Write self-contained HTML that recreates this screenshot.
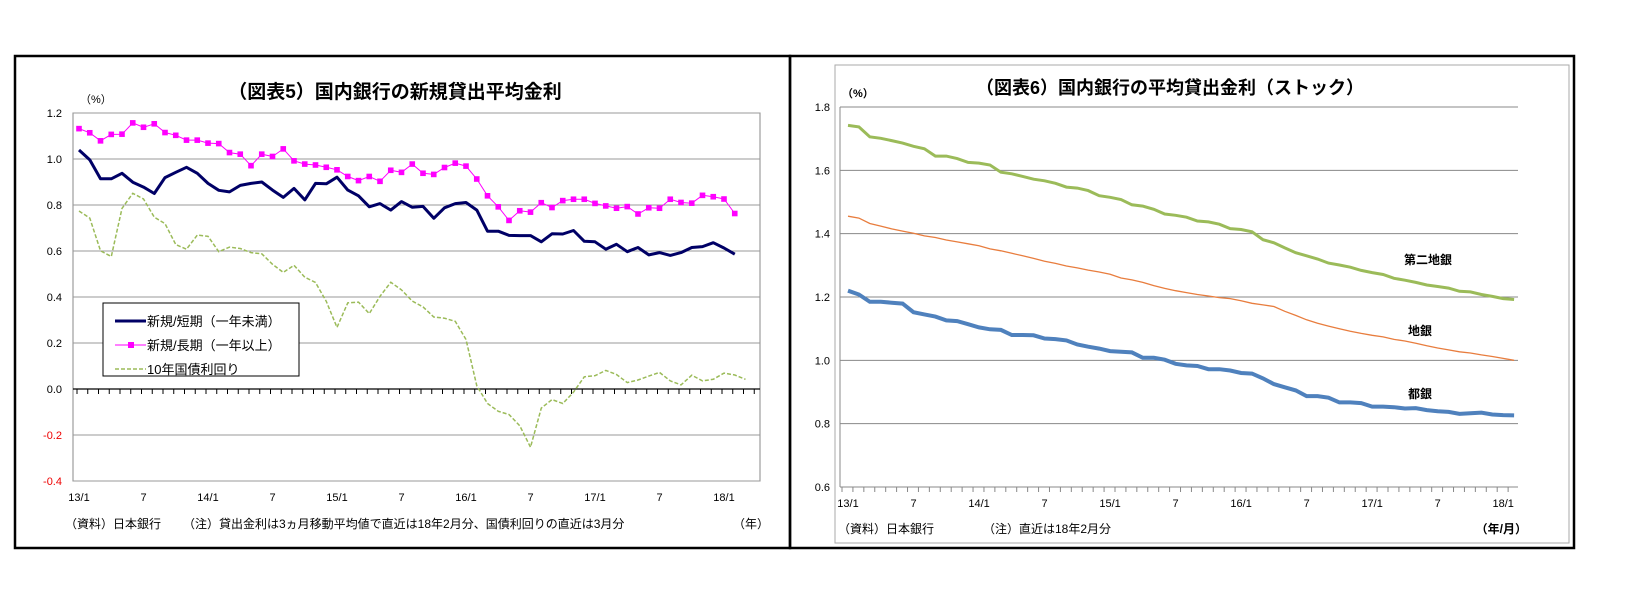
<!DOCTYPE html>
<html><head><meta charset="utf-8">
<style>
body{margin:0;background:#fff;width:1626px;height:593px;overflow:hidden;font-family:"Liberation Sans","Noto Sans CJK JP",sans-serif;}
svg{position:absolute;left:0;top:0;}
</style></head>
<body>
<svg id="c" width="1626" height="593" xmlns="http://www.w3.org/2000/svg">
<rect x="15" y="56" width="775" height="492" fill="none" stroke="#000" stroke-width="2.5"/>
<rect x="790" y="56" width="784" height="492" fill="none" stroke="#000" stroke-width="2.5"/>
<rect x="835" y="65" width="734" height="478" fill="none" stroke="#aaa" stroke-width="1"/>
<text x="395" y="98" text-anchor="middle" font-size="19" font-weight="bold">（図表5）国内銀行の新規貸出平均金利</text>
<text x="80" y="103" font-size="11">（%）</text>
<text x="1170" y="94" text-anchor="middle" font-size="18" font-weight="bold">（図表6）国内銀行の平均貸出金利（ストック）</text>
<text x="842" y="97" font-size="11" font-weight="bold">（%）</text>
<text x="65" y="528" font-size="12">（資料）日本銀行</text>
<text x="183" y="528" font-size="12">（注）貸出金利は3ヵ月移動平均値で直近は18年2月分、国債利回りの直近は3月分</text>
<text x="733" y="528" font-size="12">（年）</text>
<text x="838" y="533" font-size="12">（資料）日本銀行</text>
<text x="983" y="533" font-size="12">（注）直近は18年2月分</text>
<text x="1527" y="533" text-anchor="end" font-size="12" font-weight="bold">（年/月）</text>
<text x="1428" y="264" text-anchor="middle" font-size="12" font-weight="bold">第二地銀</text>
<text x="1420" y="335" text-anchor="middle" font-size="12" font-weight="bold">地銀</text>
<text x="1420" y="398" text-anchor="middle" font-size="12" font-weight="bold">都銀</text>
</svg>
<script>
const xLabels=["13/1","7","14/1","7","15/1","7","16/1","7","17/1","7","18/1"];
const leftTicks=[1.2,1.0,0.8,0.6,0.4,0.2,0.0,-0.2,-0.4];
const rightTicks=[1.8,1.6,1.4,1.2,1.0,0.8,0.6];
const shortTerm=[1.039,0.996,0.914,0.914,0.938,0.899,0.878,0.850,0.919,0.942,0.964,0.938,0.894,0.864,0.857,0.885,0.894,0.900,0.865,0.833,0.872,0.822,0.894,0.892,0.921,0.865,0.840,0.792,0.806,0.778,0.815,0.790,0.794,0.742,0.788,0.806,0.811,0.778,0.686,0.686,0.668,0.667,0.667,0.640,0.675,0.674,0.689,0.642,0.640,0.608,0.629,0.597,0.615,0.583,0.593,0.581,0.593,0.615,0.619,0.636,0.613,0.586];
const longTerm=[1.132,1.114,1.079,1.107,1.108,1.157,1.138,1.153,1.115,1.103,1.082,1.082,1.069,1.067,1.028,1.021,0.971,1.021,1.011,1.044,0.992,0.978,0.974,0.964,0.953,0.924,0.906,0.924,0.903,0.951,0.942,0.978,0.938,0.933,0.963,0.982,0.969,0.913,0.840,0.792,0.733,0.775,0.769,0.810,0.789,0.819,0.825,0.825,0.807,0.796,0.786,0.793,0.761,0.788,0.786,0.825,0.811,0.808,0.842,0.836,0.826,0.763];
const jgb10y=[0.774,0.743,0.601,0.576,0.785,0.851,0.826,0.747,0.719,0.628,0.608,0.669,0.664,0.597,0.617,0.611,0.593,0.588,0.542,0.507,0.538,0.486,0.463,0.381,0.268,0.375,0.378,0.328,0.403,0.464,0.431,0.382,0.357,0.313,0.308,0.294,0.215,0.014,-0.063,-0.097,-0.111,-0.160,-0.253,-0.083,-0.046,-0.063,-0.014,0.053,0.058,0.081,0.063,0.028,0.039,0.056,0.072,0.035,0.018,0.060,0.035,0.042,0.069,0.061,0.042];
const regional2=[1.742,1.737,1.706,1.701,1.694,1.686,1.676,1.668,1.645,1.645,1.637,1.625,1.623,1.617,1.594,1.589,1.581,1.572,1.567,1.559,1.547,1.544,1.536,1.520,1.515,1.508,1.491,1.487,1.477,1.462,1.458,1.452,1.440,1.437,1.430,1.416,1.413,1.406,1.381,1.371,1.355,1.340,1.330,1.320,1.307,1.301,1.294,1.284,1.277,1.271,1.259,1.253,1.246,1.238,1.233,1.228,1.218,1.216,1.208,1.202,1.195,1.192];
const regional=[1.455,1.449,1.432,1.424,1.415,1.408,1.401,1.393,1.388,1.380,1.374,1.368,1.362,1.352,1.346,1.338,1.330,1.322,1.313,1.306,1.298,1.292,1.285,1.279,1.272,1.260,1.254,1.246,1.236,1.227,1.220,1.214,1.208,1.203,1.198,1.195,1.188,1.180,1.175,1.170,1.155,1.142,1.128,1.117,1.108,1.100,1.092,1.085,1.079,1.074,1.066,1.061,1.054,1.046,1.039,1.033,1.027,1.023,1.017,1.012,1.006,1.000];
const cityBanks=[1.220,1.208,1.185,1.185,1.182,1.179,1.152,1.145,1.138,1.126,1.124,1.114,1.104,1.098,1.096,1.080,1.080,1.079,1.069,1.067,1.063,1.050,1.043,1.037,1.029,1.027,1.025,1.008,1.008,1.002,0.989,0.984,0.982,0.972,0.972,0.968,0.960,0.958,0.943,0.925,0.915,0.905,0.887,0.887,0.882,0.867,0.867,0.865,0.854,0.854,0.852,0.848,0.849,0.843,0.839,0.837,0.831,0.833,0.835,0.829,0.827,0.826];

const svg=document.getElementById('c');
const NS='http://www.w3.org/2000/svg';
function mk(tag,attrs){const e=document.createElementNS(NS,tag);for(const k in attrs)e.setAttribute(k,attrs[k]);svg.appendChild(e);return e;}

// left axes
const L={x0:79,dx:10.75,left:73,right:760,top:113,bottom:481,vmax:1.2,vmin:-0.4};
const ly=v=>L.top+(L.vmax-v)/(L.vmax-L.vmin)*(L.bottom-L.top);
const lx=i=>L.x0+i*L.dx;
// right axes
const R={x0:848,dx:10.92,left:840,right:1518,top:107,bottom:487,vmax:1.8,vmin:0.6};
const ry=v=>R.top+(R.vmax-v)/(R.vmax-R.vmin)*(R.bottom-R.top);
const rx=i=>R.x0+i*R.dx;

let e;
e=mk('rect',{x:L.left,y:L.top,width:L.right-L.left,height:L.bottom-L.top,fill:'none',stroke:'#888','stroke-width':1});


leftTicks.forEach(v=>{
  const y=ly(v);
  e=mk('line',{x1:L.left,x2:L.right,y1:y,y2:y,stroke:v===0?'#000':'#999','stroke-width':v===0?1.3:1});
  
  
  e=mk('text',{x:L.left-11,y:y+4,'text-anchor':'end','font-size':11,fill:v<0?'#e00':'#000'});
  e.textContent=v.toFixed(1);
  
  
});
for(let i=0;i<=63;i++){
  const x=L.left+4+i*L.dx;
  if(x>L.right)break;
  e=mk('line',{x1:x,x2:x,y1:ly(0),y2:ly(0)+5,stroke:'#000','stroke-width':1});
  
  
}
xLabels.forEach((t,k)=>{
  e=mk('text',{x:lx(k*6),y:501,'text-anchor':'middle','font-size':11});
  e.textContent=t;
  
  
});
function path(arr,fx,fy){return arr.map((v,i)=>(i?'L':'M')+fx(i).toFixed(1)+','+fy(v).toFixed(1)).join(' ');}
e=mk('path',{d:path(jgb10y,lx,ly),fill:'none',stroke:'#9bbb59','stroke-width':1.5,'stroke-dasharray':'4,2'});


e=mk('path',{d:path(longTerm,lx,ly),fill:'none',stroke:'#ff00ff','stroke-width':1});


longTerm.forEach((v,i)=>{
  e=mk('rect',{x:lx(i)-2.8,y:ly(v)-2.8,width:5.6,height:5.6,fill:'#ff00ff'});
  
  
});
e=mk('path',{d:path(shortTerm,lx,ly),fill:'none',stroke:'#000066','stroke-width':3,'stroke-linejoin':'round'});



// legend
e=mk('rect',{x:103,y:303,width:196,height:73,fill:'#fff',stroke:'#000','stroke-width':1});


const legItems=[['新規/短期（一年未満）','#000066',3,null,false],['新規/長期（一年以上）','#ff00ff',1,null,true],['10年国債利回り','#9bbb59',1.5,'4,2',false]];
legItems.forEach((it,k)=>{
  const y=321+k*24;
  e=mk('line',{x1:115,x2:146,y1:y,y2:y,stroke:it[1],'stroke-width':it[2]});
  if(it[3])e.setAttribute('stroke-dasharray',it[3]);
  
  
  if(it[4]){e=mk('rect',{x:128,y:y-3,width:6,height:6,fill:'#ff00ff'});
  
  }
  e=mk('text',{x:147,y:y+5,'font-size':13});
  e.textContent=it[0];
  
  
});

// right chart
rightTicks.forEach(v=>{
  const y=ry(v);
  e=mk('line',{x1:R.left,x2:R.right,y1:y,y2:y,stroke:'#888','stroke-width':1});
  
  
  e=mk('text',{x:R.left-10,y:y+4,'text-anchor':'end','font-size':11});
  e.textContent=v.toFixed(1);
  
  
});
e=mk('line',{x1:R.left,x2:R.left,y1:R.top,y2:R.bottom,stroke:'#888','stroke-width':1});


for(let i=0;i<=62;i++){
  const x=R.left+2+i*R.dx;
  if(x>R.right)break;
  e=mk('line',{x1:x,x2:x,y1:R.bottom,y2:R.bottom+5,stroke:'#888','stroke-width':1});
  
  
}
xLabels.forEach((t,k)=>{
  e=mk('text',{x:rx(k*6),y:507,'text-anchor':'middle','font-size':11});
  e.textContent=t;
  
  
});
e=mk('path',{d:path(regional2,rx,ry),fill:'none',stroke:'#9bbb59','stroke-width':3});


e=mk('path',{d:path(regional,rx,ry),fill:'none',stroke:'#e87d3e','stroke-width':1.3});


e=mk('path',{d:path(cityBanks,rx,ry),fill:'none',stroke:'#4f81bd','stroke-width':4});


</script>
</body></html>
